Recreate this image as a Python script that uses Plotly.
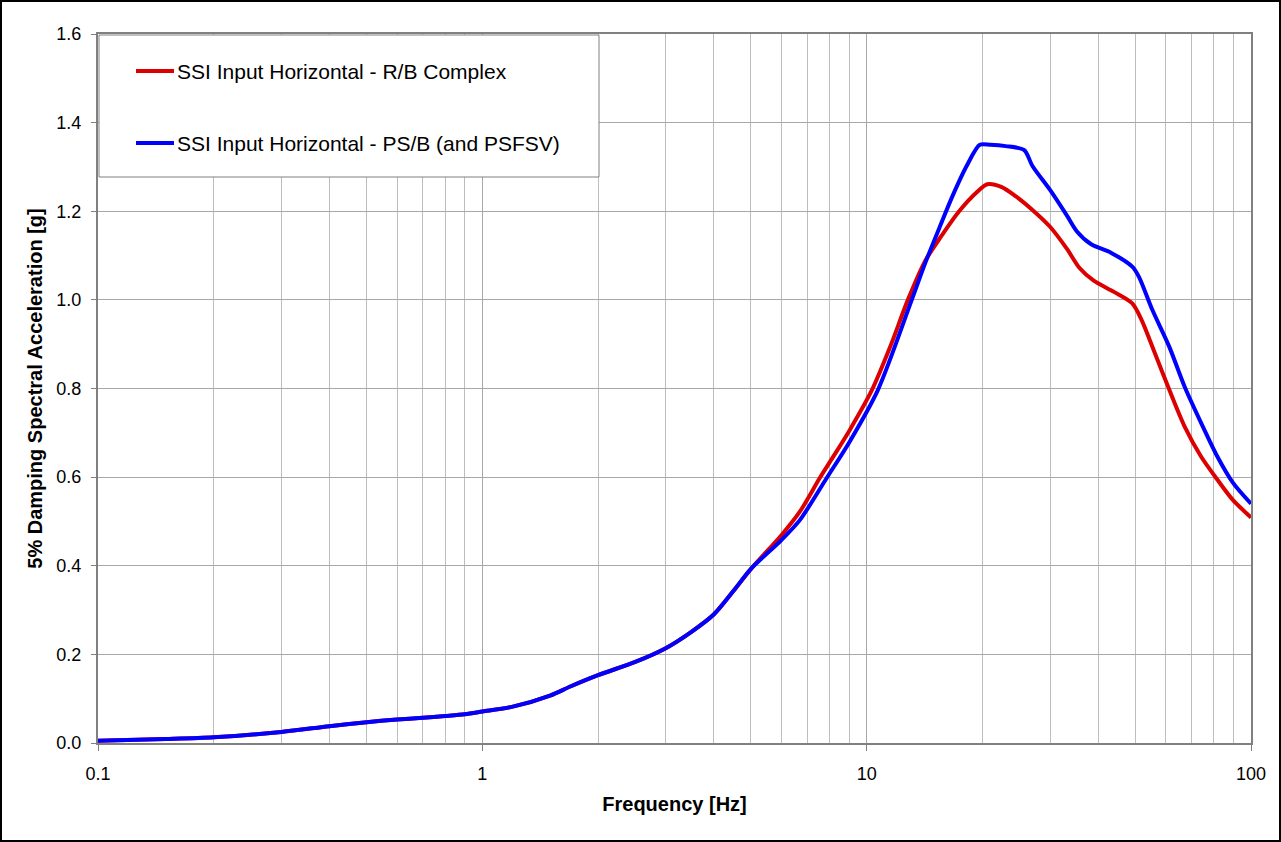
import plotly.graph_objects as go

# Response spectra (5% damping), frequency in Hz, spectral acceleration in g
freq_rb = [0.1, 0.15, 0.2, 0.3, 0.4, 0.5, 0.6, 0.7, 0.8, 0.9, 1.0, 1.2, 1.5, 1.7,
           2.0, 2.5, 3.0, 3.5, 4.0, 4.5, 5.0, 6.0, 6.7, 7.55, 8.17, 9.03, 10.3,
           11.5, 12.8, 14.2, 15.7, 17.4, 19.4, 20.6, 22.4, 24.5, 27.0, 30.0,
           33.2, 35.8, 38.9, 44.0, 49.1, 51.9, 56.2, 61.3, 67.2, 74.2, 81.8,
           89.8, 100.0]
sa_rb = [0.005, 0.009, 0.013, 0.025, 0.038, 0.047, 0.053, 0.057, 0.061, 0.065,
         0.071, 0.082, 0.107, 0.128, 0.153, 0.183, 0.214, 0.251, 0.290, 0.343,
         0.393, 0.469, 0.522, 0.598, 0.645, 0.706, 0.795, 0.893, 1.000, 1.088,
         1.146, 1.200, 1.244, 1.261, 1.255, 1.233, 1.203, 1.165, 1.115, 1.072,
         1.044, 1.018, 0.992, 0.955, 0.880, 0.797, 0.714, 0.646, 0.594, 0.548,
         0.509]

freq_psb = [0.1, 0.15, 0.2, 0.3, 0.4, 0.5, 0.6, 0.7, 0.8, 0.9, 1.0, 1.2, 1.5, 1.7,
            2.0, 2.5, 3.0, 3.5, 4.0, 4.5, 5.0, 6.0, 6.7, 7.87, 9.03, 10.7, 13.1,
            14.2, 15.5, 16.7, 18.2, 19.7, 21.0, 23.0, 25.7, 27.0, 30.0, 33.2,
            35.2, 38.3, 43.3, 49.1, 51.1, 55.4, 61.3, 67.2, 74.2, 81.8, 89.8,
            100.0]
sa_psb = [0.005, 0.009, 0.013, 0.025, 0.038, 0.047, 0.053, 0.057, 0.061, 0.065,
          0.071, 0.082, 0.107, 0.128, 0.153, 0.183, 0.214, 0.251, 0.290, 0.343,
          0.393, 0.458, 0.503, 0.598, 0.680, 0.797, 1.000, 1.083, 1.165, 1.233,
          1.302, 1.350, 1.350, 1.347, 1.338, 1.302, 1.248, 1.190, 1.155, 1.126,
          1.106, 1.075, 1.052, 0.977, 0.894, 0.804, 0.722, 0.646, 0.587, 0.540]

series_names = ["SSI Input Horizontal - R/B Complex",
                "SSI Input Horizontal - PS/B (and PSFSV)"]
series_colors = ["#DD0000", "#0000FF"]

y_ticks = [0.0, 0.2, 0.4, 0.6, 0.8, 1.0, 1.2, 1.4, 1.6]

FONT = "Arial, Liberation Sans, sans-serif"
W, H = 1281, 842
L, R, T, B = 98, 30, 34, 99
PW, PH = W - L - R, H - T - B


def px_x(px):
    return (px - L) / PW


def px_y(py):
    return (H - B - py) / PH


fig = go.Figure()
for f, sa, name, color in zip([freq_rb, freq_psb], [sa_rb, sa_psb],
                              series_names, series_colors):
    fig.add_trace(go.Scatter(
        x=f, y=sa, mode="lines", name=name,
        line=dict(color=color, width=4, shape="spline", smoothing=0.8),
        showlegend=False,
    ))

shapes = [
    # legend frame
    dict(type="rect", xref="paper", yref="paper",
         x0=px_x(99), x1=px_x(599), y0=px_y(177), y1=px_y(35),
         line=dict(color="#808080", width=1), fillcolor="white", layer="above"),
    # outer frame of the figure
    dict(type="rect", xref="paper", yref="paper",
         x0=px_x(1), x1=px_x(1280), y0=px_y(841), y1=px_y(1),
         line=dict(color="black", width=2), fillcolor="rgba(0,0,0,0)"),
]
annotations = []
for i, (name, color) in enumerate(zip(series_names, series_colors)):
    yy = 71 + 72 * i
    shapes.append(dict(type="line", xref="paper", yref="paper",
                       x0=px_x(136), x1=px_x(174), y0=px_y(yy), y1=px_y(yy),
                       line=dict(color=color, width=4), layer="above"))
    annotations.append(dict(xref="paper", yref="paper", x=px_x(175), y=px_y(yy),
                            xanchor="left", yanchor="middle", showarrow=False,
                            text=name, font=dict(family=FONT, size=21, color="black")))

fig.update_layout(
    width=W, height=H,
    margin=dict(l=L, r=R, t=T, b=B),
    paper_bgcolor="white", plot_bgcolor="white",
    font=dict(family=FONT, color="black"),
    shapes=shapes, annotations=annotations,
)

fig.update_xaxes(
    type="log", range=[-1, 2], dtick=1,
    showgrid=True, gridcolor="#a8a8a8", gridwidth=1,
    minor=dict(dtick="D1", showgrid=True, gridcolor="#bdbdbd", gridwidth=1, ticks=""),
    showline=True, linecolor="#808080", linewidth=2, mirror=True,
    ticks="outside", ticklen=6, tickcolor="#808080", tickwidth=1,
    tickfont=dict(family=FONT, size=18, color="black"),
    ticklabelstandoff=7,
    title=dict(text="<b>Frequency [Hz]</b>", font=dict(family=FONT, size=20, color="black"),
               standoff=14),
    zeroline=False,
)
fig.update_yaxes(
    range=[0, 1.6], tickvals=y_ticks, tickformat=".1f",
    showgrid=True, gridcolor="#a8a8a8", gridwidth=1,
    showline=True, linecolor="#808080", linewidth=2, mirror=True,
    ticks="outside", ticklen=5, tickcolor="#808080", tickwidth=1,
    tickfont=dict(family=FONT, size=18, color="black"),
    ticklabelstandoff=6,
    title=dict(text="<b>5% Damping Spectral Acceleration [g]</b>",
               font=dict(family=FONT, size=20, color="black"), standoff=8),
    zeroline=False,
)

fig.write_html("out.html")
